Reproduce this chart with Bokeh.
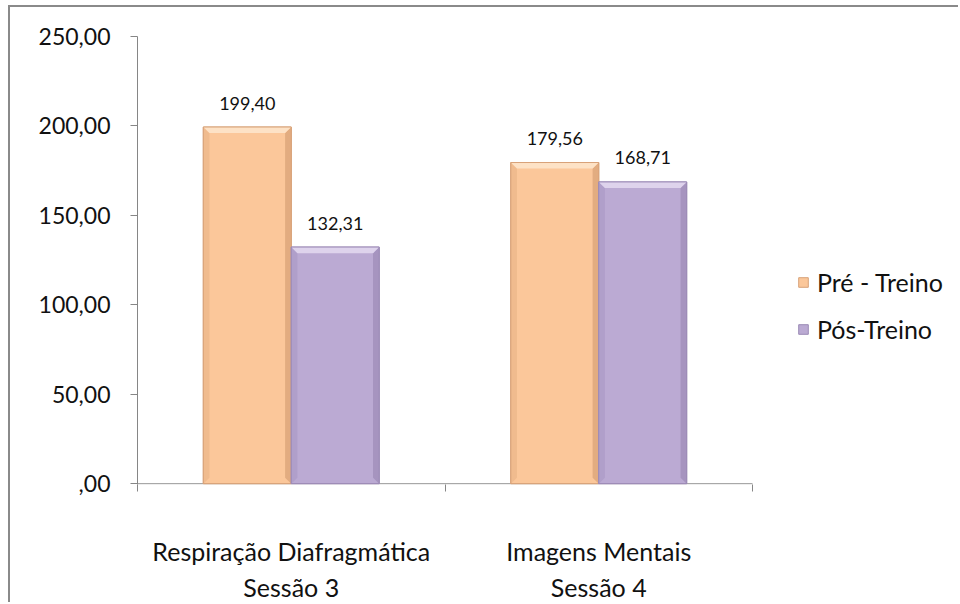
from bokeh.plotting import figure
from bokeh.models import (ColumnDataSource, FixedTicker, Legend, LegendItem, Range1d)
from bokeh.core.properties import value
from bokeh.embed import file_html
from bokeh.resources import INLINE

# Tempo médio por sessão, antes e depois do treino
categories = ["Respiração Diafragmática\nSessão 3", "Imagens Mentais\nSessão 4"]
series_names = ["Pré - Treino", "Pós-Treino"]
pre_treino = [199.40, 179.56]
pos_treino = [132.31, 168.71]
y_ticks = [0, 50, 100, 150, 200, 250]
y_tick_labels = [",00", "50,00", "100,00", "150,00", "200,00", "250,00"]

FONT = "Lato"
BAR_W = 0.286
BEVEL_X = 0.02   # bevel width in category units
BEVEL_Y = 3.4    # bevel height in value units
N = len(categories)

palettes = [
    # base, light top, dark right, mid left, outline
    ("#FBC79A", "#FDE2C6", "#E2AC80", "#F0BB8E", "#D8A278"),
    ("#BBAAD3", "#DED3EC", "#A694BF", "#B09FCA", "#9C8AB6"),
]

# the frame runs to the right edge so the legend can sit inside it;
# the category axis itself only covers [0, N]
p = figure(width=950, height=597, output_backend="svg", toolbar_location=None,
           x_range=Range1d(0, N * 823 / 615), y_range=Range1d(-0.4, 250),
           min_border_left=127, min_border_right=0, min_border_top=29,
           min_border_bottom=118, outline_line_color=None,
           background_fill_color="white", border_fill_color="white")
p.styles = {"margin-left": "8px", "margin-top": "5px",
            "border-left": "2px solid #8a8a8a", "border-top": "2px solid #8a8a8a"}
p.grid.visible = False

fmt = lambda v: f"{v:.2f}".replace(".", ",")

# category axis line
p.segment(x0=[0], y0=[0], x1=[N], y1=[0], line_color="#868686", line_width=1)

renderers = []
for k, vals in enumerate([pre_treino, pos_treino]):
    base, light, dark, mid, edge = palettes[k]
    offset = (-0.5 + k) * BAR_W
    xs = [i + 0.5 + offset for i in range(len(vals))]
    src = ColumnDataSource(dict(x=xs, top=vals, label=[fmt(v) for v in vals]))
    r = p.vbar(x="x", top="top", bottom=0, width=BAR_W, source=src,
               fill_color=base, line_color=edge, line_width=1)
    renderers.append(r)

    # bevel facets derived from each bar's value
    tops_x, tops_y, rights_x, rights_y, lefts_x, lefts_y = [], [], [], [], [], []
    for x, t in zip(xs, vals):
        l, rr = x - BAR_W / 2, x + BAR_W / 2
        tops_x.append([l, rr, rr - BEVEL_X, l + BEVEL_X])
        tops_y.append([t, t, t - BEVEL_Y, t - BEVEL_Y])
        rights_x.append([rr, rr, rr - BEVEL_X, rr - BEVEL_X])
        rights_y.append([t, 0, BEVEL_Y, t - BEVEL_Y])
        lefts_x.append([l, l, l + BEVEL_X, l + BEVEL_X])
        lefts_y.append([t, 0, BEVEL_Y, t - BEVEL_Y])
    p.patches(rights_x, rights_y, fill_color=dark, line_color=None)
    p.patches(lefts_x, lefts_y, fill_color=mid, line_color=None)
    p.patches(tops_x, tops_y, fill_color=light, line_color=None)
    p.vbar(x="x", top="top", bottom=0, width=BAR_W, source=src,
           fill_color=None, line_color=edge, line_width=1)

    p.text(x="x", y="top", text="label", source=src, y_offset=-24,
           text_align="center", text_baseline="middle",
           text_font=value(FONT), text_font_size="18px", text_color="#111111")

# y axis
ya = p.yaxis[0]
ya.ticker = FixedTicker(ticks=y_ticks, minor_ticks=[])
ya.major_label_overrides = {t: s for t, s in zip(y_ticks, y_tick_labels)}
ya.axis_line_color = "#868686"
ya.major_tick_line_color = "#868686"
ya.major_tick_out = 7
ya.major_tick_in = 0
ya.major_label_standoff = 20
ya.major_label_text_font = FONT
ya.major_label_text_font_size = "23px"
ya.major_label_text_color = "#111111"

# x axis: labels at category centres, ticks at category boundaries
xa = p.xaxis[0]
xa.ticker = FixedTicker(ticks=[i + 0.5 for i in range(N)],
                        minor_ticks=list(range(N + 1)))
xa.major_label_overrides = {i + 0.5: c for i, c in enumerate(categories)}
xa.axis_line_color = None
xa.major_tick_line_color = None
xa.minor_tick_line_color = "#868686"
xa.minor_tick_out = 7
xa.minor_tick_in = 0
xa.major_label_standoff = 44
xa.major_label_text_font = FONT
xa.major_label_text_font_size = "25px"
xa.major_label_text_color = "#111111"

legend = Legend(items=[LegendItem(label=n, renderers=[r]) for n, r in zip(series_names, renderers)],
                location=(660, 140), orientation="vertical",
                glyph_width=12, glyph_height=12, label_standoff=8, spacing=17,
                padding=10, margin=0, border_line_color=None, background_fill_alpha=0,
                label_text_font=FONT, label_text_font_size="25px",
                label_text_color="#111111")
p.add_layout(legend, "center")

open("out.html", "w").write(file_html(p, INLINE))
